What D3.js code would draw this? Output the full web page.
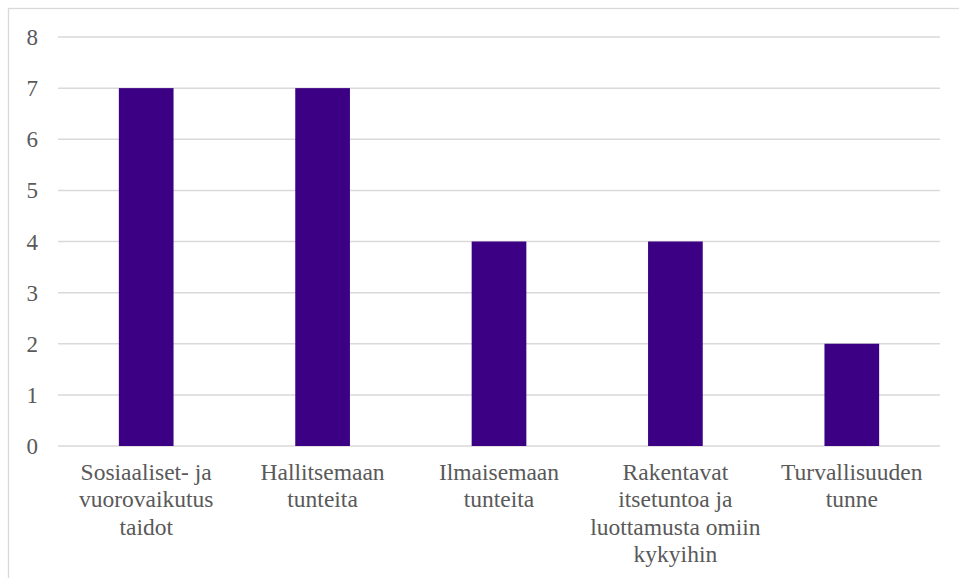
<!DOCTYPE html>
<html>
<head>
<meta charset="utf-8">
<script src="https://cdn.jsdelivr.net/npm/d3@7"></script>
<style>
  body { margin: 0; background: #fff; }
  svg { display: block; }
  text { font-family: 'Times New Roman', 'Liberation Serif', Tinos, 'DejaVu Serif', serif; }
</style>
</head>
<body>
<svg id="chart"></svg>
<script>
// data
const categories = [
  'Sosiaaliset- ja\nvuorovaikutus\ntaidot',
  'Hallitsemaan\ntunteita',
  'Ilmaisemaan\ntunteita',
  'Rakentavat\nitsetuntoa ja\nluottamusta omiin\nkykyihin',
  'Turvallisuuden\ntunne',
];
const values = [7, 7, 4, 4, 2];
const yTicks = [0, 1, 2, 3, 4, 5, 6, 7, 8];

const width = 959;
const height = 578;
const margin = { top: 37, right: 19, bottom: 132, left: 58 };

const svg = d3.select('#chart')
  .attr('width', width)
  .attr('height', height);

// chart border (runs off the right and bottom edge)
svg.append('rect')
  .attr('x', 8.5)
  .attr('y', 8.5)
  .attr('width', width + 10)
  .attr('height', height + 10)
  .attr('fill', 'none')
  .attr('stroke', '#d9d9d9')
  .attr('stroke-width', 1.3);

const x = d3.scaleBand()
  .domain(categories)
  .range([margin.left, width - margin.right])
  .paddingInner(0.69)
  .paddingOuter(0.345);

const y = d3.scaleLinear()
  .domain([0, 8])
  .range([height - margin.bottom, margin.top]);

// gridlines
svg.append('g')
  .selectAll('line')
  .data(yTicks)
  .enter()
  .append('line')
  .attr('x1', margin.left)
  .attr('x2', width - margin.right)
  .attr('y1', d => y(d))
  .attr('y2', d => y(d))
  .attr('stroke', '#d9d9d9')
  .attr('stroke-width', 1.5);

// y tick labels
svg.append('g')
  .selectAll('text')
  .data(yTicks)
  .enter()
  .append('text')
  .attr('x', 38)
  .attr('y', d => y(d))
  .attr('dy', '0.35em')
  .attr('text-anchor', 'end')
  .attr('font-size', 23)
  .attr('fill', '#595959')
  .text(d => d);

// bars
svg.append('g')
  .selectAll('rect')
  .data(values)
  .enter()
  .append('rect')
  .attr('x', (d, i) => x(categories[i]))
  .attr('width', x.bandwidth())
  .attr('y', d => y(d))
  .attr('height', d => y(0) - y(d))
  .attr('fill', '#3b0083');

// category labels, explicit line breaks
const labels = svg.append('g')
  .selectAll('text')
  .data(categories)
  .enter()
  .append('text')
  .attr('text-anchor', 'middle')
  .attr('font-size', 23.5)
  .attr('fill', '#595959');

labels.each(function(d) {
  const t = d3.select(this);
  const cx = x(d) + x.bandwidth() / 2;
  d.split('\n').forEach((line, k) => {
    t.append('tspan')
      .attr('x', cx)
      .attr('y', 480 + k * 27.3)
      .text(line);
  });
});
</script>
</body>
</html>
